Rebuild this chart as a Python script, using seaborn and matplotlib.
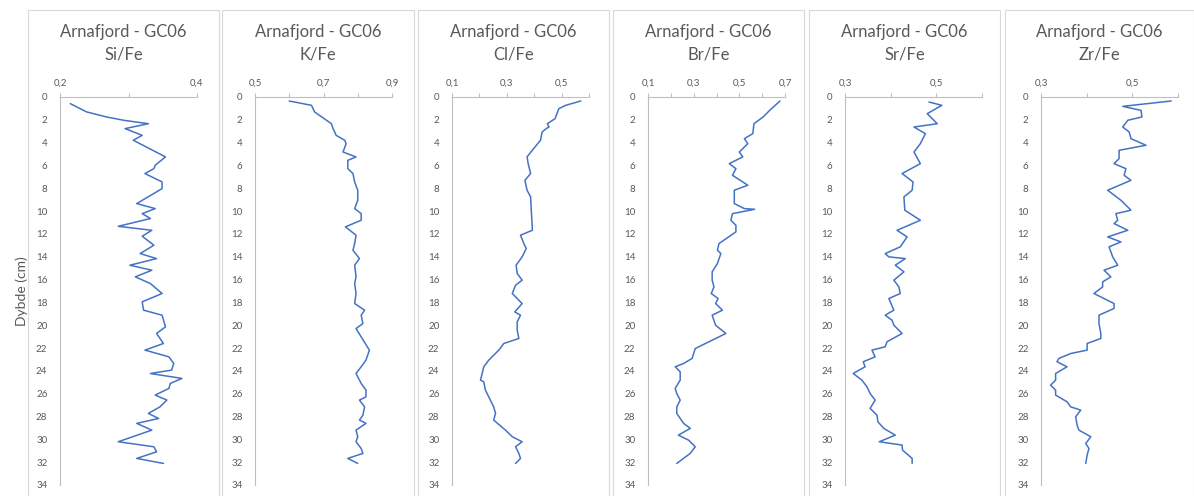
import numpy as np
import pandas as pd
import seaborn as sns
import matplotlib.pyplot as plt
from matplotlib.patches import Rectangle
from matplotlib.ticker import MultipleLocator, FixedLocator, FixedFormatter

# ---- data (depth in cm, ratio) ----
si_depth = [0.58, 1.31, 1.75, 2.04, 2.34, 2.77, 3.36, 3.79, 5.25, 5.98, 6.28, 6.71, 7.44, 8.03,
            9.34, 9.78, 10.22, 10.65, 11.33, 11.68, 12.2, 12.99, 13.72, 14.16, 14.74, 15.18,
            15.76, 16.35, 17.22, 17.95, 18.68, 19.12, 20.14, 20.72, 21.6, 22.18, 22.77, 23.35,
            23.93, 24.23, 24.66, 25.1, 25.54, 26.12, 26.56, 27.15, 27.73, 28.17, 28.6, 29.19,
            30.21, 30.65, 31.09, 31.67, 32.11]
si_fe = [0.215, 0.239, 0.268, 0.293, 0.329, 0.295, 0.320, 0.307, 0.354, 0.339, 0.337, 0.324,
         0.349, 0.349, 0.312, 0.339, 0.320, 0.332, 0.285, 0.334, 0.320, 0.337, 0.317, 0.341,
         0.302, 0.334, 0.310, 0.332, 0.349, 0.320, 0.322, 0.349, 0.354, 0.341, 0.351, 0.324,
         0.359, 0.366, 0.363, 0.332, 0.378, 0.361, 0.359, 0.339, 0.356, 0.346, 0.329, 0.344,
         0.312, 0.334, 0.285, 0.337, 0.341, 0.312, 0.351]

k_depth = [0.35, 0.73, 1.31, 2.34, 2.77, 3.36, 3.79, 4.09, 4.82, 5.25, 5.55, 6.28, 6.71, 7.44,
           8.17, 9.05, 9.78, 10.22, 10.8, 11.38, 12.11, 12.84, 13.43, 14.16, 14.74, 15.76,
           16.35, 17.22, 18.1, 18.68, 19.12, 19.85, 20.29, 21.02, 22.18, 23.06, 23.64, 24.23,
           25.1, 25.69, 26.27, 26.56, 27.15, 27.88, 28.31, 28.6, 29.19, 29.77, 30.21, 30.8,
           31.23, 31.67, 32.11]
k_fe = [0.600, 0.665, 0.674, 0.723, 0.728, 0.737, 0.762, 0.766, 0.757, 0.795, 0.771, 0.771,
        0.786, 0.791, 0.800, 0.800, 0.791, 0.810, 0.810, 0.764, 0.795, 0.791, 0.786, 0.805,
        0.791, 0.795, 0.791, 0.795, 0.791, 0.820, 0.810, 0.815, 0.795, 0.810, 0.834, 0.824,
        0.810, 0.795, 0.810, 0.824, 0.824, 0.805, 0.820, 0.815, 0.805, 0.824, 0.795, 0.800,
        0.795, 0.810, 0.815, 0.771, 0.800]

cl_depth = [0.35, 0.73, 1.02, 1.9, 2.34, 2.63, 2.77, 3.06, 3.79, 4.67, 5.25, 5.84, 6.71, 7.3,
            8.17, 8.76, 10.22, 11.38, 11.68, 12.11, 12.84, 13.28, 14.01, 14.74, 15.47, 16.05,
            16.49, 17.22, 18.1, 18.83, 19.12, 19.7, 20.43, 21.16, 21.6, 22.18, 23.06, 23.64,
            24.23, 24.81, 24.96, 25.69, 26.56, 27.15, 27.73, 28.31, 29.19, 29.77, 30.21, 30.65,
            31.23, 31.67, 32.11]
cl_fe = [0.570, 0.515, 0.490, 0.476, 0.448, 0.454, 0.444, 0.429, 0.423, 0.393, 0.374, 0.378,
         0.387, 0.366, 0.374, 0.387, 0.390, 0.393, 0.393, 0.350, 0.362, 0.371, 0.356, 0.334,
         0.338, 0.356, 0.332, 0.320, 0.356, 0.329, 0.350, 0.338, 0.338, 0.344, 0.289, 0.271,
         0.234, 0.216, 0.210, 0.204, 0.216, 0.222, 0.240, 0.252, 0.259, 0.252, 0.295, 0.320,
         0.356, 0.332, 0.344, 0.350, 0.332]

br_depth = [0.35, 1.17, 1.75, 2.34, 3.21, 3.65, 4.09, 4.82, 5.25, 5.84, 6.28, 6.86, 7.73, 8.17,
            9.34, 9.78, 9.84, 10.22, 10.8, 11.24, 11.82, 12.84, 13.43, 13.72, 14.59, 15.32,
            16.05, 16.64, 17.22, 17.66, 18.1, 18.68, 19.12, 20.0, 20.72, 21.31, 22.04, 22.91,
            23.35, 23.64, 24.08, 24.81, 25.54, 25.98, 26.56, 27.15, 27.73, 28.6, 29.04, 29.63,
            30.07, 30.65, 31.23, 32.11]
br_fe = [0.678, 0.633, 0.604, 0.564, 0.559, 0.522, 0.537, 0.500, 0.515, 0.456, 0.485, 0.470,
         0.537, 0.478, 0.478, 0.522, 0.567, 0.470, 0.463, 0.485, 0.485, 0.411, 0.404, 0.419,
         0.404, 0.381, 0.381, 0.389, 0.377, 0.407, 0.396, 0.426, 0.381, 0.396, 0.441, 0.381,
         0.307, 0.293, 0.256, 0.219, 0.241, 0.241, 0.219, 0.226, 0.241, 0.226, 0.226, 0.256,
         0.285, 0.233, 0.278, 0.307, 0.285, 0.226]

sr_depth = [0.44, 0.73, 1.46, 2.34, 2.63, 3.21, 4.09, 4.82, 5.84, 6.71, 7.44, 8.17, 8.76, 9.92,
            10.8, 11.68, 12.26, 13.13, 13.72, 14.01, 14.16, 14.74, 15.32, 16.05, 16.64, 17.22,
            17.66, 18.68, 19.12, 19.56, 20.0, 20.72, 21.45, 21.89, 22.18, 22.77, 23.2, 23.64,
            24.23, 24.81, 25.39, 25.98, 26.56, 27.29, 27.88, 28.46, 29.04, 29.63, 30.21, 30.5,
            30.94, 31.67, 32.11]
sr_fe = [0.484, 0.512, 0.480, 0.502, 0.451, 0.476, 0.465, 0.451, 0.465, 0.425, 0.449, 0.447,
         0.429, 0.431, 0.465, 0.414, 0.436, 0.421, 0.388, 0.396, 0.432, 0.410, 0.429, 0.407,
         0.418, 0.421, 0.396, 0.407, 0.388, 0.403, 0.407, 0.425, 0.392, 0.388, 0.359, 0.366,
         0.340, 0.344, 0.318, 0.337, 0.348, 0.355, 0.366, 0.355, 0.370, 0.372, 0.385, 0.410,
         0.375, 0.425, 0.426, 0.447, 0.447]

zr_depth = [0.35, 0.82, 1.17, 1.75, 2.04, 2.63, 3.06, 3.65, 4.23, 4.67, 5.4, 5.84, 6.28, 6.86,
            7.3, 8.17, 9.05, 9.92, 10.22, 10.8, 11.09, 11.68, 12.26, 12.7, 13.13, 14.01, 14.74,
            15.18, 15.76, 16.2, 16.64, 17.22, 18.1, 18.53, 19.12, 19.85, 20.72, 21.16, 21.6,
            22.18, 22.48, 22.91, 23.2, 23.64, 24.23, 24.81, 25.25, 25.69, 26.12, 26.71, 27.15,
            27.44, 28.02, 28.75, 29.19, 29.77, 30.36, 30.8, 31.38, 32.11]
zr_fe = [0.585, 0.479, 0.519, 0.521, 0.490, 0.479, 0.493, 0.497, 0.530, 0.471, 0.471, 0.460,
         0.486, 0.482, 0.497, 0.446, 0.475, 0.497, 0.464, 0.468, 0.460, 0.490, 0.446, 0.475,
         0.449, 0.457, 0.468, 0.438, 0.453, 0.435, 0.435, 0.416, 0.460, 0.460, 0.427, 0.427,
         0.431, 0.431, 0.401, 0.401, 0.365, 0.339, 0.335, 0.357, 0.332, 0.332, 0.321, 0.332,
         0.332, 0.357, 0.365, 0.387, 0.376, 0.379, 0.383, 0.409, 0.398, 0.405, 0.401, 0.398]

ratio_names = ["Si/Fe", "K/Fe", "Cl/Fe", "Br/Fe", "Sr/Fe", "Zr/Fe"]
x_limits = [(0.2, 0.4), (0.5, 0.9), (0.1, 0.6), (0.1, 0.7), (0.3, 0.6), (0.3, 0.6)]
series = [(si_depth, si_fe), (k_depth, k_fe), (cl_depth, cl_fe),
          (br_depth, br_fe), (sr_depth, sr_fe), (zr_depth, zr_fe)]
site = "Arnafjord - GC06"

# ---- styling ----
sns.set_style("white")
plt.rcParams['font.family'] = ['Lato', 'DejaVu Sans']
text_grey = "#595959"
axis_grey = "#BFBFBF"
line_blue = "#4472C4"

W, H = 1194, 496
fig = plt.figure(figsize=(W / 100, H / 100), dpi=100)

box_left = [28, 222, 418, 613, 809, 1005]
box_right = [219, 414, 609, 804, 1000, 1194]
axes_left = [60, 255, 452, 648, 845, 1041]
axes_w = 137
axes_top, axes_bottom = 97, 485

for i, name in enumerate(ratio_names):
    # chart frame like the Excel chart area
    fig.patches.append(Rectangle((box_left[i] / W, -0.01), (box_right[i] - box_left[i]) / W,
                                 1 - 10 / H + 0.01, transform=fig.transFigure,
                                 fill=False, edgecolor="#D9D9D9", linewidth=0.8))
    ax = fig.add_axes([axes_left[i] / W, 1 - axes_bottom / H, axes_w / W,
                       (axes_bottom - axes_top) / H])
    depth, vals = series[i]
    df = pd.DataFrame({"depth": depth, "ratio": vals})
    sns.lineplot(data=df, x="ratio", y="depth", sort=False, estimator=None,
                 color=line_blue, linewidth=1.1, ax=ax)

    lo, hi = x_limits[i]
    ax.set_xlim(lo, hi)
    ax.set_ylim(34, 0)
    ax.xaxis.tick_top()
    ticks = np.round(np.arange(lo, hi + 1e-9, 0.1), 1)
    labels = [f"{t:.1f}".replace(".", ",") if k % 2 == 0 else "" for k, t in enumerate(ticks)]
    ax.xaxis.set_major_locator(FixedLocator(ticks))
    ax.xaxis.set_major_formatter(FixedFormatter(labels))
    ax.yaxis.set_major_locator(MultipleLocator(2))
    ax.yaxis.set_minor_locator(MultipleLocator(1))
    ax.tick_params(axis="both", which="both", direction="out", length=3, width=0.8,
                   color=axis_grey, labelcolor=text_grey, labelsize=7, pad=2)
    ax.tick_params(axis="x", pad=4)
    ax.tick_params(axis="y", pad=6)
    for side in ["right", "bottom"]:
        ax.spines[side].set_visible(False)
    for side in ["left", "top"]:
        ax.spines[side].set_color(axis_grey)
        ax.spines[side].set_linewidth(0.8)
    ax.set_xlabel("")
    ax.set_ylabel("Dybde (cm)" if i == 0 else "", color=text_grey, fontsize=10, labelpad=6)

    cx = (box_left[i] + box_right[i]) / 2 / W
    fig.text(cx, 1 - 32 / H, site, ha="center", va="center", fontsize=12, color=text_grey)
    fig.text(cx, 1 - 54 / H, name, ha="center", va="center", fontsize=12, color=text_grey)

fig.savefig("out.png", dpi=100, facecolor="white")
